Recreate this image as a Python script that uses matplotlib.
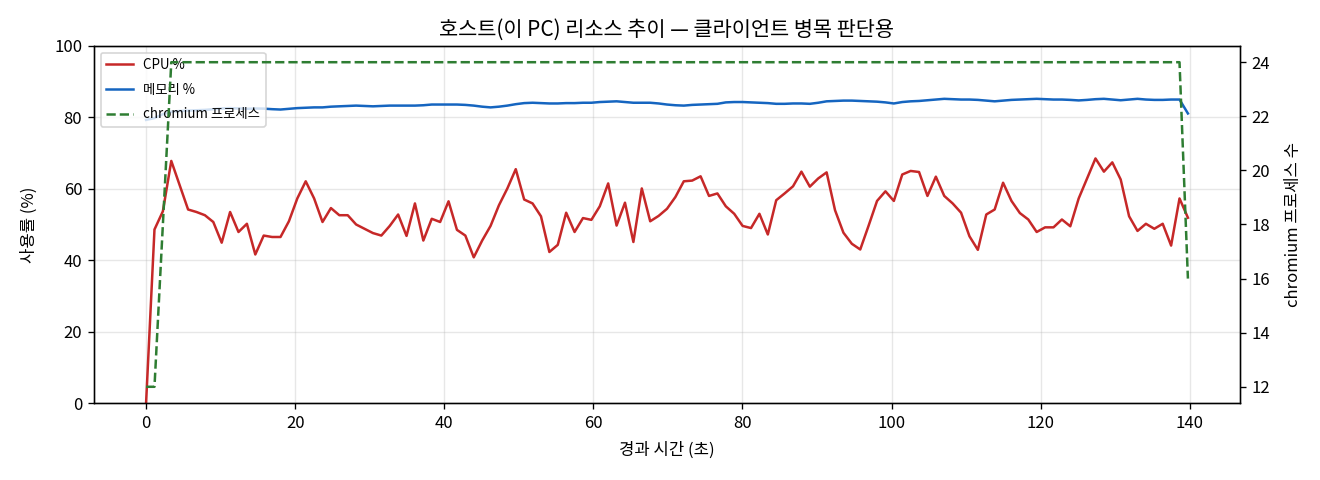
import numpy as np
import matplotlib
matplotlib.use("Agg")
import matplotlib.pyplot as plt

plt.rcParams['font.family'] = ['Noto Sans CJK KR', 'DejaVu Sans']

# 샘플 간격(초) - 약 1.13초마다 한 번씩 측정
sample_sec = 1.127

cpu = [0.0, 48.6, 53.7, 67.8, 61.0, 54.2, 53.5, 52.6, 50.7, 44.9,
       53.5, 47.9, 50.2, 41.6, 46.9, 46.5, 46.5, 50.9, 57.3, 62.1,
       57.3, 50.7, 54.6, 52.6, 52.6, 50.0, 48.8, 47.6, 46.9, 49.6,
       52.8, 46.8, 55.9, 45.5, 51.6, 50.7, 56.5, 48.5, 46.9, 40.8,
       45.5, 49.6, 55.4, 60.1, 65.5, 57.0, 55.9, 52.3, 42.3, 44.3,
       53.3, 47.9, 51.8, 51.3, 55.1, 61.5, 49.7, 56.1, 45.1, 60.1,
       50.9, 52.4, 54.4, 57.7, 62.1, 62.3, 63.5, 58.0, 58.7, 55.1,
       53.0, 49.6, 49.0, 53.0, 47.2, 56.8, 58.7, 60.7, 64.8, 60.6,
       62.9, 64.6, 54.0, 47.7, 44.6, 43.0, 49.7, 56.6, 59.3, 56.6,
       64.0, 65.0, 64.7, 58.0, 63.4, 58.0, 55.9, 53.3, 46.7, 42.9,
       52.8, 54.2, 61.7, 56.6, 53.2, 51.4, 47.9, 49.2, 49.2, 51.4,
       49.5, 57.3, 62.9, 68.5, 64.8, 67.4, 62.6, 52.3, 48.2, 50.2,
       48.8, 50.2, 44.1, 57.3, 51.9]

memory = [79.3, 79.8, 80.9, 81.6, 81.8, 81.9, 82.0, 82.1, 82.3, 82.5,
          82.6, 82.5, 82.4, 82.5, 82.45, 82.3, 82.2, 82.4, 82.6, 82.7,
          82.8, 82.8, 83.0, 83.1, 83.2, 83.3, 83.2, 83.1, 83.2, 83.3,
          83.3, 83.3, 83.3, 83.4, 83.6, 83.6, 83.6, 83.6, 83.5, 83.3,
          83.0, 82.8, 83.0, 83.3, 83.7, 84.0, 84.1, 84.0, 83.9, 83.9,
          84.0, 84.0, 84.1, 84.1, 84.3, 84.4, 84.5, 84.3, 84.1, 84.1,
          84.1, 83.9, 83.6, 83.4, 83.3, 83.5, 83.6, 83.7, 83.8, 84.2,
          84.3, 84.3, 84.2, 84.1, 84.0, 83.8, 83.8, 83.9, 83.9, 83.8,
          84.1, 84.5, 84.6, 84.7, 84.7, 84.6, 84.5, 84.4, 84.2, 83.9,
          84.3, 84.5, 84.6, 84.8, 85.0, 85.2, 85.1, 85.0, 85.0, 84.9,
          84.7, 84.5, 84.7, 84.9, 85.0, 85.1, 85.2, 85.1, 85.0, 85.0,
          84.9, 84.75, 84.9, 85.1, 85.2, 85.0, 84.8, 85.0, 85.2, 85.0,
          84.9, 84.9, 85.0, 85.0, 81.1]

chromium = [12, 12, 18] + [24] * 121 + [16]

elapsed = np.arange(len(cpu)) * sample_sec

fig = plt.figure(figsize=(11, 4), dpi=120)
ax = fig.add_axes([0.0712, 0.1604, 0.8682, 0.7438])
ax2 = ax.twinx()

l1, = ax.plot(elapsed, cpu, color='#c62828', lw=1.5, label='CPU %')
l2, = ax.plot(elapsed, memory, color='#1565c0', lw=1.5, label='메모리 %')
l3, = ax2.plot(elapsed, chromium, color='#2e7d32', lw=1.5, ls='--',
               label='chromium 프로세스')

ax.set_ylim(0, 100)
ax.set_xlabel('경과 시간 (초)', fontsize=10, labelpad=6)
ax.set_ylabel('사용률 (%)', fontsize=10, labelpad=10)
ax2.set_ylabel('chromium 프로세스 수', fontsize=10, labelpad=9)
ax.set_title('호스트(이 PC) 리소스 추이 — 클라이언트 병목 판단용', fontsize=12.5)
ax.grid(True, alpha=0.3)
ax.tick_params(labelsize=10)
ax2.tick_params(labelsize=10)

ax.legend(handles=[l1, l2, l3], loc='upper left', fontsize=8,
          labelspacing=0.8)

fig.savefig('out.png', dpi=120)
